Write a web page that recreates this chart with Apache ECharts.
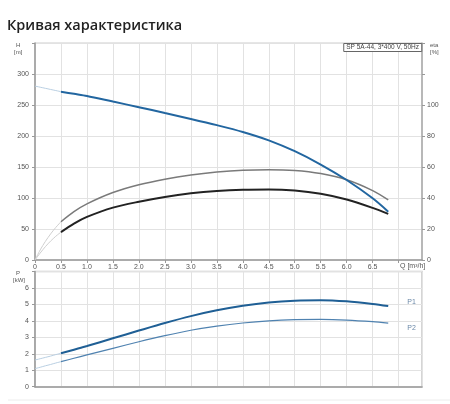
<!DOCTYPE html>
<html>
<head>
    <meta charset="UTF-8">
    <title>Кривая характеристика</title>
    <script src="https://cdn.jsdelivr.net/npm/echarts@6/dist/echarts.min.js"></script>
</head>
<body style="margin: 0; background: #fff;">
<div id="container" style="width: 450px; height: 404px;"></div>
<script type="text/javascript">
    // расход Q, м3/ч
    var qMain = [0.5, 0.75, 1.0, 1.5, 2.0, 2.5, 3.0, 3.5, 4.0, 4.5, 5.0, 5.5, 6.0, 6.5, 6.8];
    var qStart = [0, 0.1, 0.2, 0.3, 0.4, 0.5];

    // напор H, м
    var headStart = [280.5, 278.7, 276.9, 275.1, 273.3, 271.5];
    var head = [271.5, 268, 264.5, 255.5, 246.5, 237, 227.5, 217.5, 206.5, 193, 175.5, 154, 129, 99.5, 78];

    // КПД, %
    var etaPumpStart = [0, 6.5, 12, 16.8, 21, 24.7];
    var etaPump = [24.7, 31.2, 36.2, 43.5, 48.5, 52.1, 54.8, 56.7, 57.9, 58.3, 57.8, 55.8, 51.8, 44.8, 38.8];
    var etaTotalStart = [0, 4.5, 8.6, 12.2, 15.3, 18];
    var etaTotal = [18, 23.5, 27.8, 33.8, 37.6, 40.7, 43, 44.5, 45.3, 45.5, 44.8, 42.7, 39, 33.6, 29.8];

    // мощность P, кВт
    var p1Start = [1.62, 1.7, 1.78, 1.86, 1.95, 2.03];
    var p1 = [2.03, 2.25, 2.47, 2.94, 3.41, 3.87, 4.29, 4.64, 4.92, 5.12, 5.23, 5.26, 5.19, 5.03, 4.9];
    var p2Start = [1.1, 1.18, 1.27, 1.35, 1.44, 1.52];
    var p2 = [1.52, 1.73, 1.93, 2.33, 2.73, 3.1, 3.43, 3.68, 3.87, 4.0, 4.07, 4.09, 4.05, 3.95, 3.86];

    function pairs(xs, ys) {
        var out = [];
        for (var i = 0; i < xs.length; i++) {
            out.push([xs[i], ys[i]]);
        }
        return out;
    }

    var labelStyle = {fontSize: 7, color: '#555', fontFamily: 'Arial, "Liberation Sans", sans-serif'};
    var gridLine = {show: true, lineStyle: {color: '#e2e2e2', width: 1}};

    function curve(name, xAxis, yAxis, data, color, width) {
        return {
            name: name,
            type: 'line',
            xAxisIndex: xAxis,
            yAxisIndex: yAxis,
            smooth: 0.3,
            symbol: 'none',
            silent: true,
            lineStyle: {color: color, width: width},
            data: data
        };
    }

    var dom = document.getElementById("container");
    var myChart = echarts.init(dom);
    var option = {
        animation: false,
        title: [
            {
                text: 'Кривая характеристика',
                left: 7,
                top: 18,
                padding: 0,
                textStyle: {fontSize: 14.5, fontWeight: 600, color: '#222', fontFamily: '"Open Sans", "Noto Sans", sans-serif'}
            },
            {
                text: 'SP 5A-44, 3*400 V, 50Hz',
                right: 28,
                top: 43,
                padding: [1, 3, 1, 3],
                borderWidth: 1,
                borderColor: '#666',
                backgroundColor: '#fff',
                textStyle: {fontSize: 6.5, fontWeight: 'normal', color: '#444', fontFamily: 'Arial, "Liberation Sans", sans-serif'}
            }
        ],
        grid: [
            {left: 35, right: 28, top: 43, height: 217, show: true, borderColor: '#ccc', borderWidth: 1},
            {left: 35, right: 28, top: 271.5, height: 115.2, show: true, borderColor: '#c8c8c8', borderWidth: 1.5}
        ],
        xAxis: [
            {
                type: 'value', gridIndex: 0, min: 0, max: 7.45, interval: 0.5,
                axisLine: {show: true, onZero: false, lineStyle: {color: '#999', width: 1.5}},
                axisTick: {show: true, length: 3, lineStyle: {color: '#999'}},
                axisLabel: Object.assign({margin: 4, showMaxLabel: false, formatter: function (v) {
                    if (v === 0) return '0';
                    if (v > 6.5) return '';
                    return v.toFixed(1);
                }}, labelStyle),
                splitLine: gridLine
            },
            {
                type: 'value', gridIndex: 1, min: 0, max: 7.45, interval: 0.5,
                axisLine: {show: true, onZero: false, lineStyle: {color: '#999', width: 1.5}},
                axisTick: {show: false},
                axisLabel: {show: false},
                splitLine: gridLine
            }
        ],
        yAxis: [
            {
                type: 'value', gridIndex: 0, min: 0, max: 350, interval: 50,
                axisLine: {show: true, lineStyle: {color: '#999', width: 1.5}},
                axisTick: {show: true, length: 3, lineStyle: {color: '#999'}},
                axisLabel: Object.assign({margin: 6, formatter: function (v) {
                    return v > 300 ? '' : String(v);
                }}, labelStyle),
                splitLine: gridLine
            },
            {
                type: 'value', gridIndex: 0, position: 'right', min: 0, max: 140, interval: 20,
                axisLine: {show: true, lineStyle: {color: '#aaa', width: 1.5}},
                axisTick: {show: true, length: 3, lineStyle: {color: '#999'}},
                axisLabel: Object.assign({margin: 5, formatter: function (v) {
                    return v > 100 ? '' : String(v);
                }}, labelStyle),
                splitLine: {show: false}
            },
            {
                type: 'value', gridIndex: 1, min: 0, max: 7, interval: 1,
                axisLine: {show: true, lineStyle: {color: '#999', width: 1.5}},
                axisTick: {show: true, length: 3, lineStyle: {color: '#999'}},
                axisLabel: Object.assign({margin: 6, formatter: function (v) {
                    return v > 6 ? '' : String(v);
                }}, labelStyle),
                splitLine: gridLine
            }
        ],
        graphic: [
            {type: 'text', left: 16, top: 42, style: {text: 'H', fontSize: 6, fill: '#555', fontFamily: 'Arial, sans-serif'}},
            {type: 'text', left: 14, top: 49, style: {text: '[m]', fontSize: 6, fill: '#555', fontFamily: 'Arial, sans-serif'}},
            {type: 'text', left: 430, top: 42, style: {text: 'eta', fontSize: 6, fill: '#555', fontFamily: 'Arial, sans-serif'}},
            {type: 'text', left: 430, top: 49, style: {text: '[%]', fontSize: 6, fill: '#555', fontFamily: 'Arial, sans-serif'}},
            {type: 'text', left: 16, top: 270, style: {text: 'P', fontSize: 6, fill: '#555', fontFamily: 'Arial, sans-serif'}},
            {type: 'text', left: 13, top: 277, style: {text: '[kW]', fontSize: 6, fill: '#555', fontFamily: 'Arial, sans-serif'}},
            {type: 'text', left: 400, top: 263, style: {text: 'Q [m³/h]', fontSize: 7, fill: '#555', fontFamily: 'Arial, sans-serif'}},
            {type: 'line', shape: {x1: 8, y1: 400, x2: 450, y2: 400}, style: {stroke: '#ececec', lineWidth: 1}}
        ],
        series: [
            curve('H0', 0, 0, pairs(qStart, headStart), '#b9cfe2', 1),
            curve('etaP0', 0, 1, pairs(qStart, etaPumpStart), '#cfcfcf', 1),
            curve('etaT0', 0, 1, pairs(qStart, etaTotalStart), '#cfcfcf', 1),
            curve('eta pump', 0, 1, pairs(qMain, etaPump), '#7a7a7a', 1.5),
            curve('eta total', 0, 1, pairs(qMain, etaTotal), '#222', 2),
            curve('H', 0, 0, pairs(qMain, head), '#2266a0', 2),
            curve('P10', 1, 2, pairs(qStart, p1Start), '#b9cfe2', 1),
            curve('P20', 1, 2, pairs(qStart, p2Start), '#b9cfe2', 1),
            Object.assign(curve('P1', 1, 2, pairs(qMain, p1), '#1f5f95', 2), {
                endLabel: {show: true, formatter: 'P1', distance: 19, offset: [0, -4], fontSize: 7, color: '#6a88a8'}
            }),
            Object.assign(curve('P2', 1, 2, pairs(qMain, p2), '#4f82b0', 1.2), {
                endLabel: {show: true, formatter: 'P2', distance: 19, offset: [0, 5], fontSize: 7, color: '#6a88a8'}
            })
        ]
    };
    myChart.setOption(option, true);
</script>
</body>
</html>
